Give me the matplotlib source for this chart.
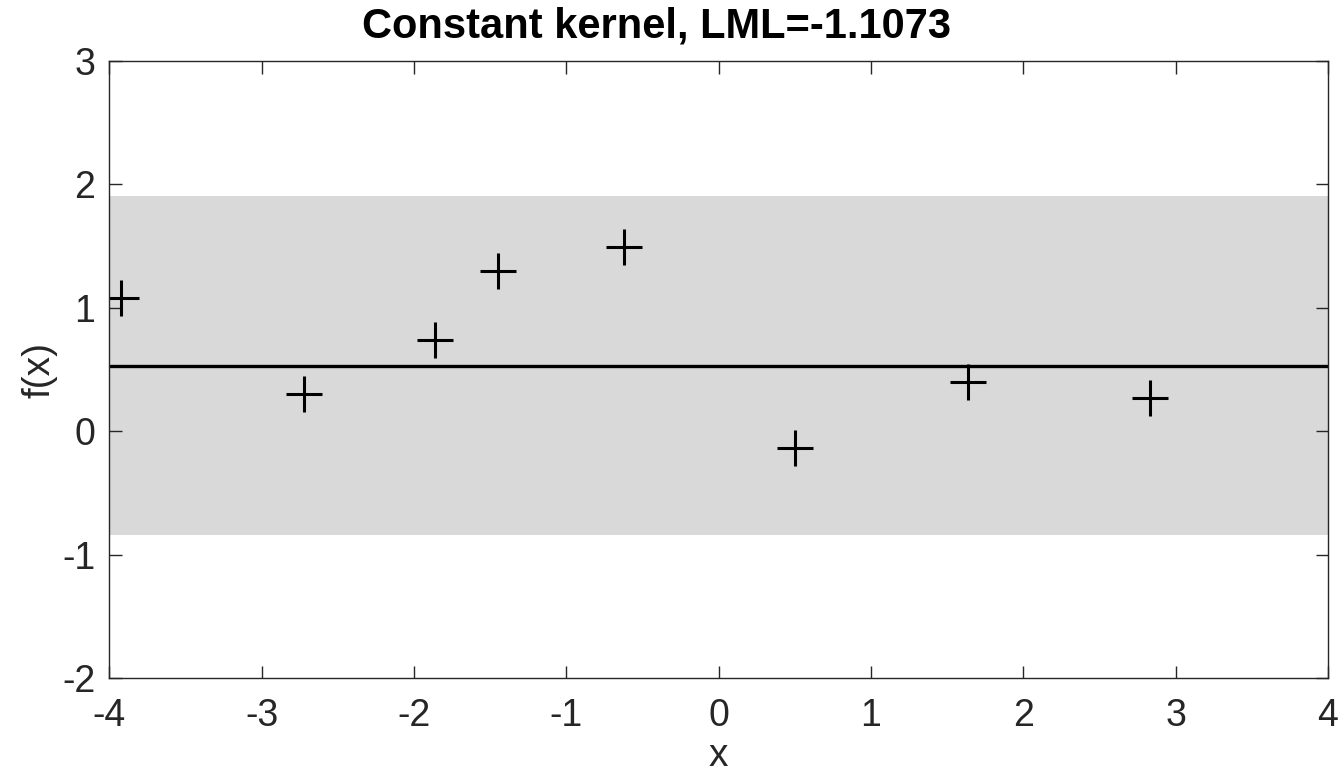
"""GP regression with a constant kernel: mean, 2-sigma band and training points."""

import matplotlib

matplotlib.use("Agg")
import matplotlib.pyplot as plt
import numpy as np

# Training points
x_train = [-3.92, -2.72, -1.86, -1.45, -0.62, 0.50, 1.64, 2.83]
y_train = [1.08, 0.30, 0.74, 1.30, 1.49, -0.13, 0.40, 0.27]

# Posterior mean and band limits (constant in x)
x_grid = [-4.0, 4.0]
post_mean = [0.532, 0.532]
band_low = [-0.842, -0.842]
band_high = [1.905, 1.905]

title = "Constant kernel, LML=-1.1073"
x_ticks = [-4, -3, -2, -1, 0, 1, 2, 3, 4]
y_ticks = [-2, -1, 0, 1, 2, 3]

plt.rcParams["font.family"] = ["Liberation Sans", "DejaVu Sans"]
text_col = "#262626"

fig = plt.figure(figsize=(13.39, 7.78), dpi=100)
ax = fig.add_axes([0.0816, 0.128, 0.9102, 0.7936])

ax.fill_between(x_grid, band_low, band_high, color="#d9d9d9", linewidth=0)
ax.plot(x_grid, post_mean, color="black", linewidth=2.4)
ax.plot(x_train, y_train, linestyle="none", marker="+", markersize=26,
        markeredgewidth=2.2, color="black")

ax.set_xlim(-4, 4)
ax.set_ylim(-2, 3)
ax.set_xticks(x_ticks, labels=[str(t) for t in x_ticks])
ax.set_yticks(y_ticks, labels=[str(t) for t in y_ticks])
ax.tick_params(direction="in", length=9, width=1.0, top=True, right=True,
               labelsize=27, colors=text_col)
ax.tick_params(axis="x", pad=14)
ax.tick_params(axis="y", pad=10)
for sp in ax.spines.values():
    sp.set_color(text_col)
    sp.set_linewidth(1.0)

# x label sits near the bottom edge, as in the reference, but stays inside
ax.set_xlabel("x", fontsize=28, color=text_col, labelpad=3)
ax.set_ylabel("f(x)", fontsize=28, color=text_col, labelpad=3)
fig.text(656 / 1339, 1 - 26 / 778, title, ha="center", va="center",
         fontsize=30, fontweight="bold", color="black")

fig.savefig("out.png", dpi=100)
plt.close(fig)
